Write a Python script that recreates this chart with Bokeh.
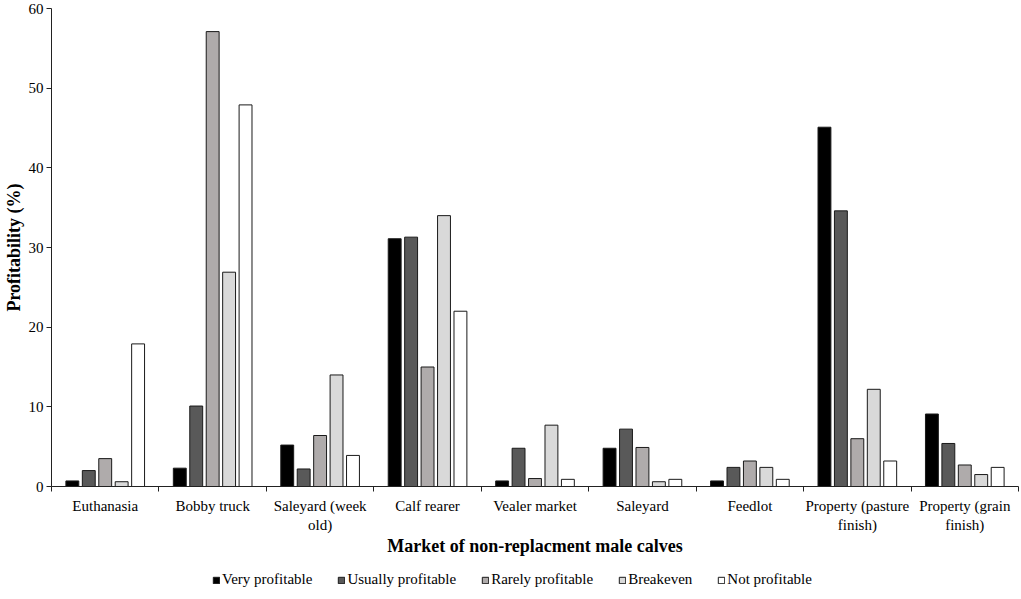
from bokeh.plotting import figure
from bokeh.models import ColumnDataSource, FixedTicker, Legend, LegendItem, Range1d
from bokeh.layouts import column
from bokeh.embed import file_html
from bokeh.resources import INLINE

categories = ["Euthanasia", "Bobby truck", "Saleyard (week\nold)", "Calf rearer", "Vealer market",
              "Saleyard", "Feedlot", "Property (pasture\nfinish)", "Property (grain\nfinish)"]
series_names = ["Very profitable", "Usually profitable", "Rarely profitable", "Breakeven", "Not profitable"]
very_profitable = [0.7, 2.3, 5.2, 31.1, 0.7, 4.8, 0.7, 45.1, 9.1]
usually_profitable = [2.0, 10.1, 2.2, 31.3, 4.8, 7.2, 2.4, 34.6, 5.4]
rarely_profitable = [3.5, 57.1, 6.4, 15.0, 1.0, 4.9, 3.2, 6.0, 2.7]
breakeven = [0.6, 26.9, 14.0, 34.0, 7.7, 0.6, 2.4, 12.2, 1.5]
not_profitable = [17.9, 47.9, 3.9, 22.0, 0.9, 0.9, 0.9, 3.2, 2.4]
y_ticks = [0, 10, 20, 30, 40, 50, 60]

series_values = [very_profitable, usually_profitable, rarely_profitable, breakeven, not_profitable]
colors = ["#000000", "#595959", "#afabab", "#d9d9d9", "#ffffff"]

FONT = "Liberation Serif"

p = figure(width=1019, height=558, output_backend="svg", toolbar_location=None,
           x_range=Range1d(0, 9), y_range=Range1d(0, 60),
           min_border_left=40, min_border_right=1, min_border_top=8, min_border_bottom=0)

step = 0.153
bw = 0.12
for j, (name, vals, col) in enumerate(zip(series_names, series_values, colors)):
    xs = [i + 0.5 + (j - 2) * step for i in range(len(categories))]
    src = ColumnDataSource(dict(x=xs, top=vals))
    p.vbar(x="x", top="top", width=bw, bottom=0, source=src,
           fill_color=col, line_color="#1a1a1a", line_width=1)

p.xgrid.visible = False
p.ygrid.visible = False
p.outline_line_color = None

centers = [i + 0.5 for i in range(len(categories))]
bounds = [float(i) for i in range(len(categories) + 1)]
p.xaxis.ticker = FixedTicker(ticks=centers, minor_ticks=bounds)
p.xaxis.major_label_overrides = {c: lab for c, lab in zip(centers, categories)}
p.xaxis.major_tick_line_color = None
p.xaxis.minor_tick_in = 0
p.xaxis.minor_tick_out = 5
p.xaxis.minor_tick_line_color = "#222222"
p.xaxis.axis_line_color = "#222222"
p.xaxis.major_label_standoff = 5
p.xaxis.axis_label = "Market of non-replacment male calves"
p.xaxis.axis_label_standoff = 0

p.yaxis.ticker = FixedTicker(ticks=y_ticks)
p.yaxis.minor_tick_line_color = None
p.yaxis.major_tick_in = 0
p.yaxis.major_tick_out = 5
p.yaxis.major_tick_line_color = "#222222"
p.yaxis.axis_line_color = "#222222"
p.yaxis.major_label_standoff = 3
p.yaxis.axis_label = "Profitability (%)"
p.yaxis.axis_label_standoff = 2

for ax in (p.xaxis[0], p.yaxis[0]):
    ax.major_label_text_font = FONT
    ax.major_label_text_font_size = "15px"
    ax.major_label_text_color = "#000000"
    ax.axis_label_text_font = FONT
    ax.axis_label_text_font_size = "18px"
    ax.axis_label_text_font_style = "bold"
    ax.axis_label_text_color = "#000000"

# legend strip below the chart
lg = figure(width=1019, height=38, output_backend="svg", toolbar_location=None,
            x_range=Range1d(0, 1), y_range=Range1d(0, 1),
            min_border=0, outline_line_color=None)
lg.axis.visible = False
lg.grid.visible = False
items = []
for name, col in zip(series_names, colors):
    r = lg.vbar(x=[5.0], top=[-5.0], bottom=-6.0, width=0.1, fill_color=col,
                line_color="#1a1a1a", line_width=1)
    items.append(LegendItem(label=name, renderers=[r]))
legend = Legend(items=items, orientation="horizontal", location=(161, 8),
                label_text_font=FONT, label_text_font_size="15px", label_text_color="#000000",
                glyph_width=8, glyph_height=8, label_standoff=2, spacing=25,
                border_line_color=None, background_fill_alpha=0,
                margin=0, padding=2)
lg.add_layout(legend, "center")

layout = column(p, lg, spacing=0)
open("out.html", "w").write(file_html(layout, INLINE))
